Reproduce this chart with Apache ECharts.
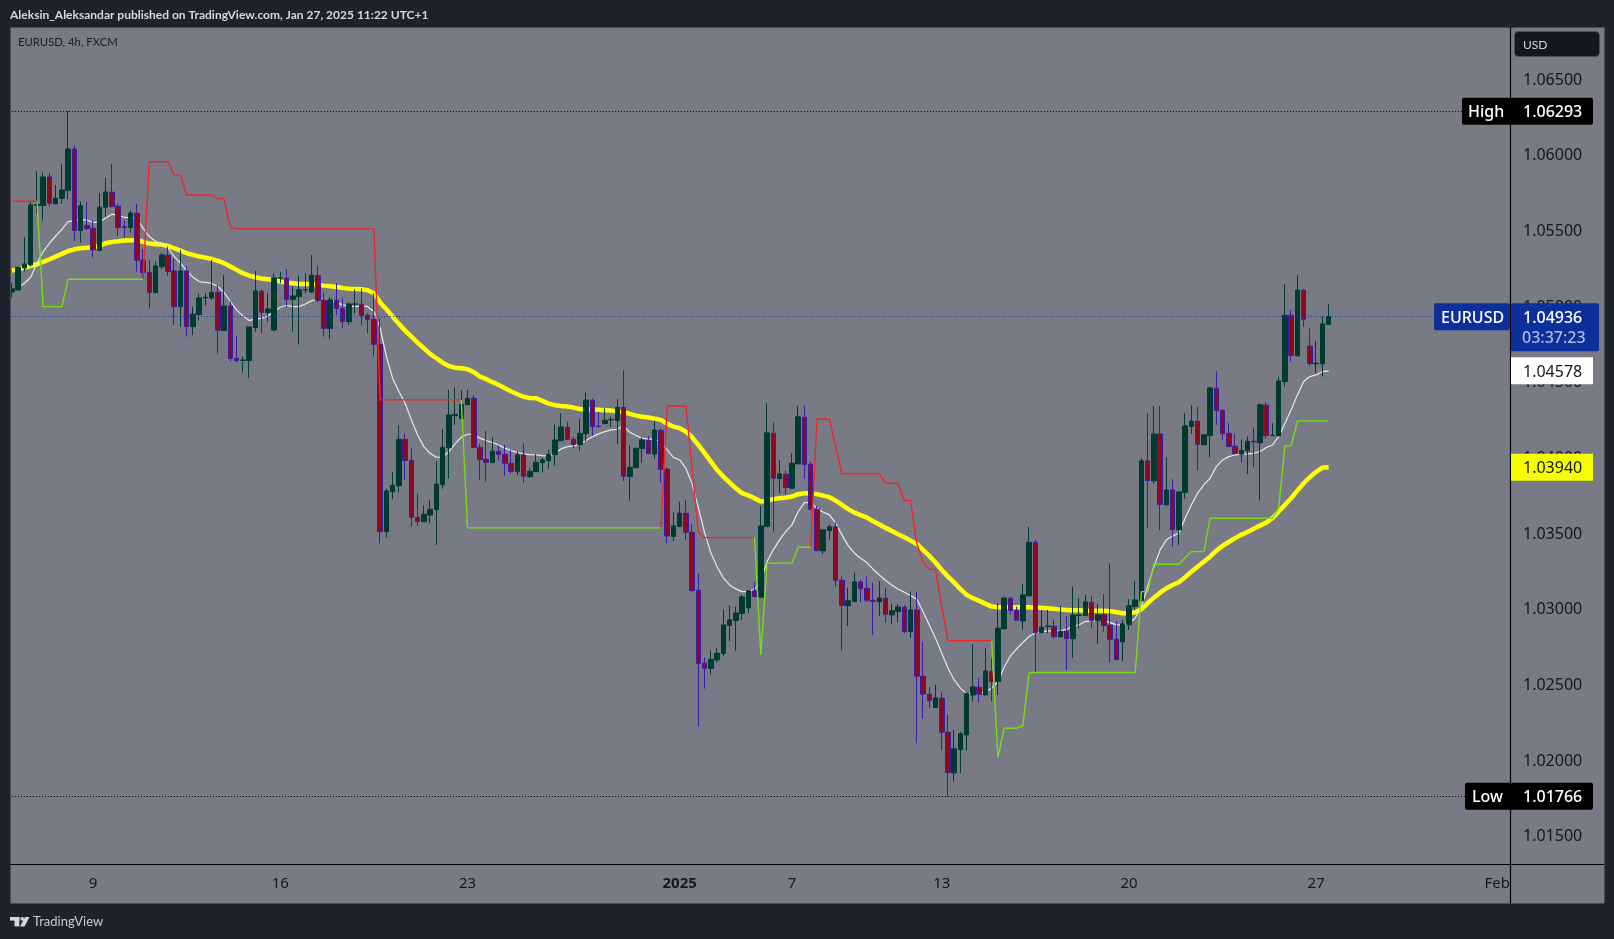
<!DOCTYPE html>
<html>
<head>
<meta charset="utf-8">
<title>EURUSD, 4h, FXCM</title>
<script src="https://cdn.jsdelivr.net/npm/echarts@6/dist/echarts.min.js"></script>
<style>
html, body { margin: 0; padding: 0; background: #1e222d; overflow: hidden; }
#main { width: 1614px; height: 939px; }
</style>
</head>
<body>
<div id="main"></div>
<script>
// axis texts
var priceTicks = [1.015, 1.02, 1.025, 1.03, 1.035, 1.04, 1.045, 1.05, 1.055, 1.06, 1.065];
var dateTickIndex = [13, 43, 73, 107, 125, 149, 179, 209, 238];
var dateTickLabels = ['9', '16', '23', '2025', '7', '13', '20', '27', 'Feb'];

// candles
var opens = [
1.05099,1.05113,1.05258,1.05278,1.05670,1.05670,1.05859,1.05681,1.05718,1.05769,
1.06044,1.05505,1.05540,1.05520,1.05373,1.05659,1.05758,1.05666,1.05530,1.05525,
1.05619,1.05309,1.05229,1.05095,1.05267,1.05342,1.05238,1.05002,1.05238,1.04870,
1.04950,1.05060,1.05060,1.05097,1.04844,1.05007,1.04661,1.04646,1.04646,1.04864,
1.05104,1.04963,1.04848,1.05190,1.05190,1.05049,1.05069,1.05113,1.05099,1.05207,
1.05047,1.04857,1.05044,1.04991,1.04903,1.05018,1.05018,1.04945,1.04919,1.04753,
1.03515,1.03779,1.03819,1.04125,1.03986,1.03610,1.03581,1.03625,1.03661,1.03826,
1.04070,1.04282,1.04262,1.04354,1.04396,1.04072,1.03993,1.03971,1.04046,1.04026,
1.03967,1.03912,1.04022,1.03879,1.03912,1.03971,1.03984,1.04024,1.04116,1.04205,
1.04125,1.04090,1.04163,1.04383,1.04213,1.04229,1.04254,1.04249,1.04337,1.03879,
1.03938,1.04064,1.04119,1.04028,1.04185,1.03928,1.03483,1.03549,1.03637,1.03511,
1.03128,1.02646,1.02611,1.02668,1.02710,1.02895,1.02928,1.02974,1.03011,1.03124,
1.03082,1.03549,1.04166,1.03866,1.03895,1.03802,1.03963,1.04271,1.03961,1.03663,
1.03388,1.03522,1.03547,1.03194,1.03025,1.03053,1.03183,1.03141,1.03062,1.03051,
1.03075,1.02965,1.02987,1.03016,1.02855,1.02998,1.02560,1.02441,1.02353,1.02415,
1.02190,1.01921,1.02075,1.02172,1.02436,1.02487,1.02436,1.02593,1.02525,1.02873,
1.03075,1.02996,1.02925,1.03091,1.03443,1.02848,1.02888,1.02890,1.02820,1.02857,
1.02807,1.02961,1.02961,1.03049,1.02926,1.02965,1.02897,1.02804,1.02787,1.02901,
1.03020,1.03058,1.03983,1.03851,1.04161,1.03692,1.03791,1.03527,1.03774,1.04210,
1.04245,1.04089,1.04150,1.04463,1.04318,1.04165,1.04080,1.04027,1.04049,1.04113,
1.04102,1.04351,1.04150,1.04148,1.04507,1.04945,1.04677,1.05111,1.04741,1.04624,1.04624,1.04884
];
var closes = [
1.05121,1.05262,1.05284,1.05674,1.05677,1.05859,1.05685,1.05718,1.05773,1.06044,
1.05505,1.05668,1.05518,1.05377,1.05659,1.05760,1.05663,1.05525,1.05525,1.05621,
1.05309,1.05227,1.05095,1.05271,1.05344,1.05234,1.05002,1.05238,1.04870,1.04952,
1.05060,1.05064,1.05097,1.04846,1.05007,1.04659,1.04646,1.04650,1.04868,1.05106,
1.04965,1.04987,1.05192,1.05192,1.05051,1.05073,1.05113,1.05115,1.05210,1.05044,
1.04859,1.05047,1.04991,1.04903,1.05020,1.05020,1.04945,1.04919,1.04754,1.03515,
1.03784,1.03821,1.04125,1.03986,1.03610,1.03583,1.03630,1.03663,1.03830,1.04072,
1.04286,1.04290,1.04357,1.04396,1.04072,1.03991,1.03973,1.04046,1.04026,1.03967,
1.03914,1.04022,1.03881,1.03914,1.03973,1.03989,1.04026,1.04121,1.04207,1.04125,
1.04092,1.04165,1.04385,1.04211,1.04209,1.04251,1.04257,1.04337,1.03881,1.03940,
1.04066,1.04121,1.04031,1.04187,1.03927,1.03487,1.03553,1.03637,1.03511,1.03126,
1.02643,1.02613,1.02672,1.02712,1.02899,1.02932,1.02978,1.03084,1.03124,1.03086,
1.03553,1.04168,1.03868,1.03897,1.03807,1.03967,1.04274,1.03959,1.03663,1.03390,
1.03527,1.03547,1.03194,1.03027,1.03058,1.03183,1.03139,1.03062,1.03053,1.03077,
1.02969,1.02992,1.03018,1.02855,1.02998,1.02560,1.02441,1.02399,1.02417,1.02190,
1.01923,1.02080,1.02179,1.02445,1.02489,1.02441,1.02595,1.02525,1.02877,1.03077,
1.02994,1.02930,1.03097,1.03445,1.02848,1.02884,1.02892,1.02822,1.02857,1.02809,
1.02965,1.02965,1.03051,1.02928,1.02965,1.02895,1.02804,1.02670,1.02906,1.03025,
1.03064,1.03983,1.03853,1.04161,1.03694,1.03791,1.03529,1.03778,1.04214,1.04245,
1.04093,1.04155,1.04465,1.04315,1.04163,1.04078,1.04031,1.04053,1.04113,1.04109,
1.04353,1.04150,1.04153,1.04511,1.04945,1.04679,1.05111,1.04919,1.04626,1.04628,1.04888,1.04936
];
var lows = [
1.05062,1.05108,1.05234,1.05267,1.05619,1.05571,1.05663,1.05681,1.05681,1.05712,
1.05434,1.05425,1.05509,1.05326,1.05366,1.05597,1.05659,1.05469,1.05456,1.05491,
1.05234,1.05183,1.04989,1.05091,1.05249,1.05205,1.04881,1.04870,1.04804,1.04813,
1.04910,1.05007,1.05047,1.04690,1.04844,1.04639,1.04632,1.04566,1.04533,1.04837,
1.04826,1.04903,1.04837,1.05157,1.05002,1.04837,1.04751,1.05091,1.05091,1.05033,
1.04804,1.04789,1.04947,1.04859,1.04881,1.04958,1.04881,1.04826,1.04672,1.03438,
1.03475,1.03729,1.03773,1.03857,1.03548,1.03555,1.03581,1.03570,1.03427,1.03799,
1.03865,1.04220,1.04262,1.04352,1.04070,1.03857,1.03846,1.03971,1.03984,1.03885,
1.03901,1.03890,1.03839,1.03870,1.03912,1.03905,1.03931,1.03951,1.04116,1.04121,
1.04070,1.04050,1.04112,1.04147,1.04207,1.04229,1.04207,1.04097,1.03850,1.03720,
1.03936,1.03971,1.04028,1.03998,1.03839,1.03436,1.03454,1.03549,1.03461,1.03113,
1.02227,1.02478,1.02573,1.02650,1.02694,1.02793,1.02729,1.02932,1.02976,1.03082,
1.03080,1.03549,1.03516,1.03769,1.03765,1.03796,1.03963,1.03866,1.03663,1.03384,
1.03368,1.03461,1.03152,1.02729,1.02892,1.03053,1.03047,1.03051,1.02833,1.02958,
1.02914,1.02903,1.02917,1.02844,1.02815,1.02117,1.02278,1.02348,1.02353,1.02073,
1.01766,1.01864,1.01919,1.02069,1.02392,1.02386,1.02436,1.02392,1.02436,1.02871,
1.02969,1.02928,1.02866,1.03091,1.02584,1.02844,1.02844,1.02807,1.02815,1.02602,
1.02683,1.02877,1.02959,1.02877,1.02773,1.02855,1.02650,1.02668,1.02661,1.02866,
1.02998,1.03058,1.03536,1.03831,1.03527,1.03692,1.03417,1.03428,1.03734,1.04161,
1.03919,1.04089,1.04005,1.04221,1.04122,1.04073,1.04027,1.03972,1.03897,1.03941,
1.03721,1.04130,1.04148,1.04148,1.04474,1.04639,1.04672,1.04870,1.04611,1.04562,1.04540,1.04884
];
var highs = [
1.05157,1.05267,1.05461,1.05696,1.05897,1.05888,1.05886,1.05806,1.05945,1.06293,
1.06069,1.05696,1.05694,1.05575,1.05751,1.05853,1.05945,1.05681,1.05575,1.05637,
1.05681,1.05381,1.05311,1.05300,1.05359,1.05399,1.05322,1.05377,1.05267,1.05002,
1.05086,1.05091,1.05311,1.05146,1.05210,1.05036,1.04809,1.04672,1.04868,1.05240,
1.05113,1.05091,1.05223,1.05234,1.05249,1.05135,1.05207,1.05223,1.05344,1.05271,
1.05091,1.05064,1.05157,1.05058,1.05029,1.05117,1.05124,1.04958,1.05091,1.04925,
1.03799,1.03907,1.04218,1.04165,1.04066,1.03768,1.03689,1.03724,1.03980,1.04191,
1.04451,1.04469,1.04451,1.04451,1.04418,1.04094,1.04180,1.04138,1.04083,1.04088,
1.04055,1.04044,1.04099,1.03934,1.04028,1.04004,1.04055,1.04224,1.04297,1.04240,
1.04143,1.04260,1.04436,1.04396,1.04304,1.04330,1.04275,1.04392,1.04583,1.04086,
1.04070,1.04138,1.04147,1.04246,1.04198,1.03941,1.03643,1.03712,1.03725,1.03564,
1.03240,1.02685,1.02729,1.02745,1.03000,1.03029,1.03020,1.03097,1.03130,1.03183,
1.03685,1.04364,1.04238,1.03989,1.03919,1.04033,1.04346,1.04346,1.03978,1.03685,
1.03527,1.03562,1.03577,1.03218,1.03146,1.03245,1.03196,1.03218,1.03179,1.03188,
1.03141,1.03038,1.03038,1.03031,1.03117,1.03117,1.02787,1.02487,1.02502,1.02452,
1.02309,1.02205,1.02194,1.02452,1.02773,1.02551,1.02745,1.02679,1.03042,1.03082,
1.03086,1.03020,1.03170,1.03547,1.03461,1.02994,1.02998,1.02936,1.03020,1.02958,
1.03152,1.03075,1.03097,1.03091,1.03038,1.03104,1.03307,1.02921,1.02932,1.03069,
1.03190,1.04000,1.04298,1.04346,1.04346,1.04007,1.03862,1.03778,1.04298,1.04351,
1.04340,1.04155,1.04474,1.04575,1.04318,1.04232,1.04161,1.04122,1.04144,1.04205,
1.04364,1.04370,1.04232,1.04540,1.05152,1.04981,1.05212,1.05117,1.04859,1.04776,1.04937,1.05020
];

// thick yellow average
var yellowLine = [
1.05240,1.05249,1.05262,1.05271,1.05282,1.05298,1.05315,1.05333,1.05351,1.05370,
1.05381,1.05388,1.05392,1.05395,1.05403,1.05421,1.05430,1.05434,1.05439,1.05441,
1.05443,1.05430,1.05419,1.05414,1.05412,1.05403,1.05388,1.05373,1.05355,1.05344,
1.05333,1.05326,1.05317,1.05304,1.05289,1.05267,1.05245,1.05223,1.05207,1.05196,
1.05188,1.05183,1.05177,1.05168,1.05161,1.05157,1.05152,1.05152,1.05150,1.05146,
1.05141,1.05137,1.05132,1.05126,1.05121,1.05119,1.05117,1.05110,1.05091,1.05029,
1.04985,1.04936,1.04888,1.04844,1.04804,1.04764,1.04727,1.04690,1.04661,1.04632,
1.04610,1.04599,1.04595,1.04589,1.04569,1.04540,1.04523,1.04503,1.04485,1.04463,
1.04441,1.04423,1.04406,1.04399,1.04397,1.04379,1.04361,1.04351,1.04346,1.04342,
1.04335,1.04326,1.04324,1.04322,1.04320,1.04318,1.04315,1.04311,1.04305,1.04293,
1.04282,1.04275,1.04269,1.04262,1.04254,1.04227,1.04209,1.04199,1.04176,1.04139,
1.04088,1.04034,1.03978,1.03923,1.03879,1.03839,1.03802,1.03769,1.03755,1.03736,
1.03714,1.03720,1.03730,1.03736,1.03740,1.03747,1.03763,1.03769,1.03769,1.03763,
1.03753,1.03743,1.03720,1.03692,1.03664,1.03641,1.03624,1.03608,1.03584,1.03562,
1.03540,1.03520,1.03498,1.03478,1.03456,1.03434,1.03395,1.03355,1.03311,1.03262,
1.03218,1.03178,1.03135,1.03097,1.03075,1.03058,1.03038,1.03020,1.03016,1.03015,
1.03015,1.03015,1.03015,1.03015,1.03013,1.03013,1.03009,1.03005,1.03000,1.02998,
1.02996,1.02996,1.02993,1.02993,1.02993,1.02993,1.02990,1.02983,1.02976,1.02976,
1.02983,1.03003,1.03042,1.03079,1.03112,1.03141,1.03163,1.03181,1.03214,1.03251,
1.03284,1.03317,1.03350,1.03390,1.03421,1.03447,1.03472,1.03494,1.03513,1.03535,
1.03555,1.03575,1.03604,1.03648,1.03692,1.03736,1.03786,1.03835,1.03875,1.03910,1.03938,1.03940
];
// thin white average
var whiteLine = [
1.05117,1.05130,1.05157,1.05196,1.05289,1.05366,1.05421,1.05469,1.05513,1.05564,
1.05571,1.05575,1.05575,1.05558,1.05564,1.05586,1.05613,1.05604,1.05593,1.05588,
1.05588,1.05520,1.05465,1.05434,1.05417,1.05388,1.05333,1.05289,1.05240,1.05196,
1.05168,1.05163,1.05157,1.05135,1.05095,1.05036,1.04981,1.04941,1.04910,1.04921,
1.04925,1.04941,1.04970,1.04998,1.05011,1.05002,1.05002,1.05020,1.05040,1.05051,
1.05051,1.05047,1.05029,1.05014,1.05007,1.05002,1.05009,1.05002,1.04970,1.04860,
1.04672,1.04529,1.04441,1.04364,1.04254,1.04154,1.04077,1.04033,1.04007,1.04007,
1.04044,1.04095,1.04139,1.04159,1.04159,1.04133,1.04117,1.04104,1.04088,1.04067,
1.04051,1.04038,1.04029,1.04024,1.04022,1.04018,1.04016,1.04033,1.04062,1.04077,
1.04082,1.04095,1.04117,1.04143,1.04161,1.04176,1.04188,1.04192,1.04214,1.04172,
1.04150,1.04133,1.04126,1.04125,1.04110,1.04055,1.04006,1.03989,1.03933,1.03831,
1.03672,1.03507,1.03375,1.03282,1.03210,1.03163,1.03137,1.03119,1.03119,1.03135,
1.03185,1.03317,1.03395,1.03461,1.03515,1.03560,1.03648,1.03707,1.03707,1.03670,
1.03644,1.03626,1.03571,1.03494,1.03423,1.03373,1.03340,1.03311,1.03267,1.03229,
1.03192,1.03163,1.03135,1.03115,1.03093,1.03069,1.02987,1.02899,1.02811,1.02712,
1.02613,1.02535,1.02481,1.02443,1.02443,1.02443,1.02458,1.02481,1.02524,1.02621,
1.02694,1.02740,1.02783,1.02822,1.02846,1.02853,1.02859,1.02859,1.02861,1.02870,
1.02888,1.02899,1.02921,1.02927,1.02927,1.02927,1.02914,1.02899,1.02899,1.02910,
1.02943,1.03020,1.03152,1.03284,1.03395,1.03461,1.03487,1.03505,1.03604,1.03692,
1.03769,1.03824,1.03868,1.03945,1.03989,1.04011,1.04022,1.04027,1.04029,1.04033,
1.04044,1.04071,1.04088,1.04143,1.04232,1.04320,1.04419,1.04507,1.04540,1.04551,1.04573,1.04578
];
// stepped stop lines, as [level, number of bars]; null is a gap
var redSteps = [
[1.05699,5],[null,16],[1.05183,1],[1.05960,4],[1.05871,2],[1.05740,5],[1.05714,2],[1.05527,1],[1.05516,23],
[1.04386,14],[null,31],[1.03540,1],[1.04346,4],[1.03930,1],[1.03511,1],[1.03476,9],[null,8],[1.03412,1],
[1.04260,3],[1.04077,1],[1.03897,7],[1.03835,3],[1.03720,2],[1.03439,1],[1.03311,1],[1.03267,2],[1.03020,1],[1.02795,8]
];
var greenSteps = [
[null,4],[1.05699,1],[1.05002,4],[1.05183,13],[null,50],[1.04386,1],[1.03540,32],[null,14],[1.03476,1],[1.02701,1],
[1.03307,5],[1.03412,3],[null,28],[1.02795,1],[1.02022,1],[1.02216,3],[1.02233,1],[1.02584,18],[1.03119,2],
[1.03300,5],[1.03342,1],[1.03383,3],[1.03604,11],[1.03670,1],[1.04082,2],[1.04247,6]
];

// price tags on the right scale
var highPrice = 1.06293;
var lowPrice = 1.01766;
var lastPrice = 1.04936;
var whitePrice = 1.04578;
var yellowPrice = 1.03940;
var countdown = '03:37:23';

var FONT = '"Noto Sans", sans-serif';
var FONT_SMALL = 'Lato, "Noto Sans", sans-serif';
var slotCount = 240;

function expandSteps(steps) {
	var out = [];
	steps.forEach(function(s) {
		for (var k = 0; k < s[1]; k++) out.push(s[0]);
	});
	return out;
}

var categories = [];
for (var i = 0; i < slotCount; i++) {
	var at = dateTickIndex.indexOf(i);
	categories.push(at >= 0 ? dateTickLabels[at] : '');
}

var candles = opens.map(function(o, i) {
	return [o, closes[i], lows[i], highs[i]];
});

var chart = echarts.init(document.getElementById('main'), null, { renderer: 'canvas' });

var option = {
	animation: false,
	backgroundColor: '#1e222d',
	grid: { left: 8.88, top: 27, width: 1497.6, bottom: 75, containLabel: false },
	xAxis: {
		type: 'category',
		data: categories,
		boundaryGap: true,
		axisLine: { show: false },
		axisTick: { show: false },
		splitLine: { show: false },
		axisLabel: {
			interval: 0,
			margin: 12,
			color: '#131722',
			fontFamily: FONT,
			fontSize: 15,
			formatter: function(v) {
				return v === '2025' ? '{y|2025}' : v;
			},
			rich: { y: { fontFamily: FONT, fontSize: 15, fontWeight: 'bold', color: '#131722' } }
		}
	},
	yAxis: {
		type: 'value',
		position: 'right',
		min: 1.01319,
		max: 1.0685,
		scale: true,
		axisLine: { show: false },
		axisTick: { show: false },
		splitLine: { show: false },
		axisLabel: {
			customValues: priceTicks,
			margin: 16.5,
			padding: [4, 0, 0, 0],
			color: '#131722',
			fontFamily: FONT,
			fontSize: 16,
			formatter: function(v) { return v.toFixed(5); }
		}
	},
	series: [
		{
			name: 'slow', type: 'line', data: yellowLine, z: 2, symbol: 'none', silent: true,
			lineStyle: { color: '#ffff00', width: 4.5 }
		},
		{
			name: 'fast', type: 'line', data: whiteLine, z: 3, symbol: 'none', silent: true,
			lineStyle: { color: '#e8e8ec', width: 1.2 }
		},
		{
			name: 'EURUSD', type: 'candlestick', data: candles, z: 4, barWidth: 5,
			itemStyle: {
				color: '#003a30', color0: '#8c0a20',
				borderColor: '#003a30', borderColor0: '#3a1ca8', borderWidth: 1
			},
			markLine: {
				silent: true, symbol: 'none', precision: 5, label: { show: false }, animation: false,
				data: [
					{ yAxis: highPrice, lineStyle: { color: '#000000', type: [1, 2], width: 1 } },
					{ yAxis: lowPrice, lineStyle: { color: '#000000', type: [1, 2], width: 1 } },
					{ yAxis: lastPrice, lineStyle: { color: '#1433b4', type: [1, 2], width: 1 } }
				]
			}
		},
		{
			name: 'stopDown', type: 'line', data: expandSteps(redSteps), z: 5, symbol: 'none', silent: true,
			lineStyle: { color: '#f0262e', width: 1.4 }
		},
		{
			name: 'stopUp', type: 'line', data: expandSteps(greenSteps), z: 6, symbol: 'none', silent: true,
			lineStyle: { color: '#76de12', width: 1.4 }
		}
	]
};
chart.setOption(option);

// panel, frame, header and price tags
function priceY(p) {
	return chart.convertToPixel({ yAxisIndex: 0 }, p);
}
function box(x, y, w, h, fill, z, r) {
	return { type: 'rect', silent: true, z: z, shape: { x: x, y: y, width: w, height: h, r: r || 0 }, style: { fill: fill } };
}
function label(x, y, str, color, size, weight, family) {
	return {
		type: 'text', silent: true, z: 70, x: x, y: y,
		style: { text: str, fill: color, fontFamily: family || FONT, fontSize: size, fontWeight: weight || 'normal', verticalAlign: 'middle', align: 'left' }
	};
}
function line(x1, y1, x2, y2, color, width, z) {
	return { type: 'line', silent: true, z: z, shape: { x1: x1, y1: y1, x2: x2, y2: y2 }, style: { stroke: color, lineWidth: width } };
}

var yHigh = priceY(highPrice), yLow = priceY(lowPrice), yLast = priceY(lastPrice);
var yWhite = priceY(whitePrice), yYellow = priceY(yellowPrice);

var elements = [
	box(10, 27, 1594, 876, '#787b86', -1),
	box(0, 27, 10, 876, '#1e222d', 50),
	line(10.5, 27, 10.5, 903, '#4a4e5a', 1, 51),
	line(10, 27.5, 1604, 27.5, '#4a4e5a', 1, 51),
	line(1604.5, 27, 1604.5, 903, '#4a4e5a', 1, 51),
	line(10, 903.5, 1604, 903.5, '#4a4e5a', 1, 51),
	line(10, 864.5, 1604, 864.5, '#000000', 1.2, 52),
	line(1510.5, 27, 1510.5, 903, '#000000', 1.2, 52),

	label(10, 15, 'Aleksin_Aleksandar published on TradingView.com, Jan 27, 2025 11:22 UTC+1', '#d6d8de', 12, 'bold', FONT_SMALL),
	label(18, 42.5, 'EURUSD, 4h, FXCM', '#1a1d26', 11.3, 'normal', FONT_SMALL),

	{ type: 'rect', silent: true, z: 60, shape: { x: 1514.5, y: 31.5, width: 85, height: 25, r: 4 }, style: { fill: '#131722', stroke: '#4a4e5a', lineWidth: 1 } },
	label(1523, 45, 'USD', '#d1d4dc', 12, 'normal', FONT_SMALL),

	box(1462, yHigh - 13.5, 131, 27, '#000000', 60, 2),
	label(1468, yHigh + 1.5, 'High', '#ffffff', 16, 500),
	label(1523, yHigh + 1.5, highPrice.toFixed(5), '#ffffff', 16, 500),

	box(1465, yLow - 13.5, 128, 27, '#000000', 60, 2),
	label(1472, yLow + 1.5, 'Low', '#ffffff', 16, 500),
	label(1523, yLow + 1.5, lowPrice.toFixed(5), '#ffffff', 16, 500),

	box(1434, yLast - 13.5, 76, 27, '#0d2f9c', 60, 2),
	box(1511, yLast - 13.5, 88, 48, '#0d2f9c', 60, 2),
	label(1441, yLast + 1.5, 'EURUSD', '#ffffff', 16, 500),
	label(1523, yLast + 1.5, lastPrice.toFixed(5), '#ffffff', 16, 500),
	label(1522, yLast + 22, countdown, '#aeb8e2', 16, 500),

	box(1511, yWhite - 13.5, 82, 27, '#ffffff', 60),
	label(1523, yWhite + 1.5, whitePrice.toFixed(5), '#131722', 16),

	box(1511, yYellow - 13.5, 82, 27, '#f5ff00', 60),
	label(1523, yYellow + 1.5, yellowPrice.toFixed(5), '#131722', 16),

	// footer logo and name
	box(10, 917, 9.5, 3.6, '#d6d8de', 60),
	box(14.5, 917, 4.8, 9.4, '#d6d8de', 60),
	{ type: 'circle', silent: true, z: 60, shape: { cx: 22.3, cy: 918.8, r: 1.9 }, style: { fill: '#d6d8de' } },
	{ type: 'polygon', silent: true, z: 60, shape: { points: [[25, 917], [29.5, 917], [24.5, 926.4], [20, 926.4]] }, style: { fill: '#d6d8de' } },
	label(33, 922, 'TradingView', '#c8cad2', 13, 'normal', FONT_SMALL)
];
chart.setOption({ graphic: { elements: elements } });
</script>
</body>
</html>
